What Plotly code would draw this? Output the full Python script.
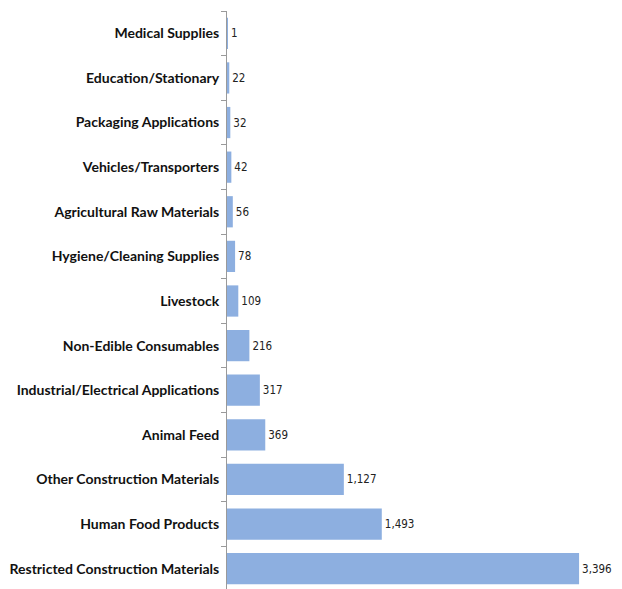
import plotly.graph_objects as go

categories = [
    "Restricted Construction Materials",
    "Human Food Products",
    "Other Construction Materials",
    "Animal Feed",
    "Industrial/Electrical Applications",
    "Non-Edible Consumables",
    "Livestock",
    "Hygiene/Cleaning Supplies",
    "Agricultural Raw Materials",
    "Vehicles/Transporters",
    "Packaging Applications",
    "Education/Stationary",
    "Medical Supplies",
]
values = [3396, 1493, 1127, 369, 317, 216, 109, 78, 56, 42, 32, 22, 1]
value_labels = [f"{v:,}" for v in values]

fig = go.Figure(
    go.Bar(
        y=categories,
        x=values,
        orientation="h",
        marker=dict(color="#8DAFE0", line=dict(width=0)),
        text=value_labels,
        textposition="outside",
        textfont=dict(family="DejaVu Sans Condensed, sans-serif", size=11.5, color="#222222"),
        constraintext="none",
        cliponaxis=False,
        width=0.7,
    )
)

fig.update_layout(
    width=614,
    height=589,
    margin=dict(l=219, r=0, t=3, b=6),
    paper_bgcolor="white",
    plot_bgcolor="white",
    showlegend=False,
    xaxis=dict(
        range=[0, 3810],
        visible=False,
        showgrid=False,
        zeroline=False,
    ),
    yaxis=dict(
        categoryorder="array",
        categoryarray=categories,
        showline=True,
        linecolor="#9a9a9a",
        linewidth=1,
        ticks="outside",
        tickson="boundaries",
        ticklen=5,
        tickcolor="#9a9a9a",
        tickfont=dict(family="Lato, Open Sans, sans-serif", size=14, color="#111111", weight="bold"),
        ticklabelstandoff=4,
        showgrid=False,
        zeroline=False,
    ),
)

fig.write_html("out.html")
